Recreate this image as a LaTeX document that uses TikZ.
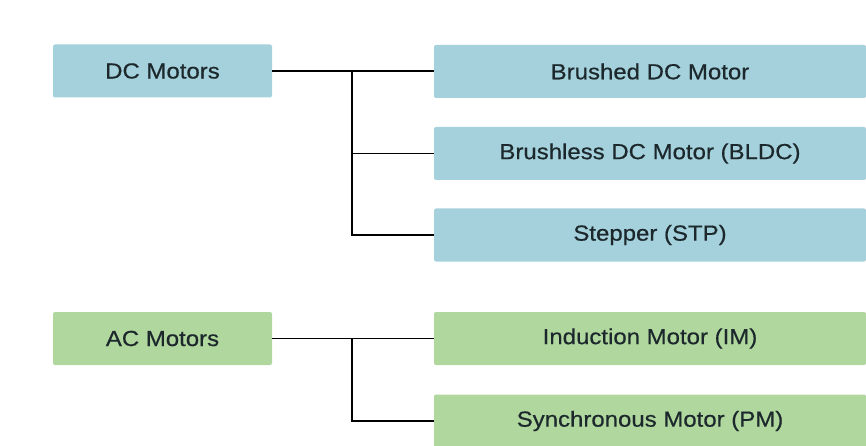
\documentclass[tikz,border=0pt]{standalone}
\usepackage{fontspec}
\setmainfont{Liberation Sans}[FakeStretch=1.1,FakeBold=0.5]
\definecolor{dcblue}{RGB}{164,209,219}
\definecolor{acgreen}{RGB}{176,215,157}
\definecolor{txt}{RGB}{28,40,44}
\begin{document}
\begin{tikzpicture}[x=1pt,y=-1pt,
  box/.style={rectangle, rounded corners=2pt, inner sep=0pt, text=txt,
    font=\fontsize{21.8}{24}\selectfont, minimum height=53pt},
  parent/.style={box, minimum width=219pt},
  child/.style={box, minimum width=432pt},
  dc/.style={fill=dcblue},
  ac/.style={fill=acgreen},
  conn/.style={draw=black, line width=1.6pt}]
\useasboundingbox (0,0) rectangle (866,446);
\node[parent,dc] (dcm) at (162.5,71) {DC Motors};
\node[child,dc] (bdc) at (650,71.5) {Brushed DC Motor};
\node[child,dc] (bldc) at (650,153.5) {Brushless DC Motor (BLDC)};
\node[child,dc] (stp) at (650,235) {Stepper (STP)};
\node[parent,ac] (acm) at (162.5,338.5) {AC Motors};
\node[child,ac] (im) at (650,338.5) {Induction Motor (IM)};
\node[child,ac] (pm) at (650,421) {Synchronous Motor (PM)};
\coordinate (j1) at (352,71);
\coordinate (j2) at (352,338.5);
\draw[conn] (dcm.east) -- (j1) -- (bdc.west |- j1);
\draw[conn] (j1) |- (bldc.west);
\draw[conn] (j1) |- (stp.west);
\draw[conn] (acm.east) -- (j2) -- (im.west);
\draw[conn] (j2) |- (pm.west);
\end{tikzpicture}
\end{document}
